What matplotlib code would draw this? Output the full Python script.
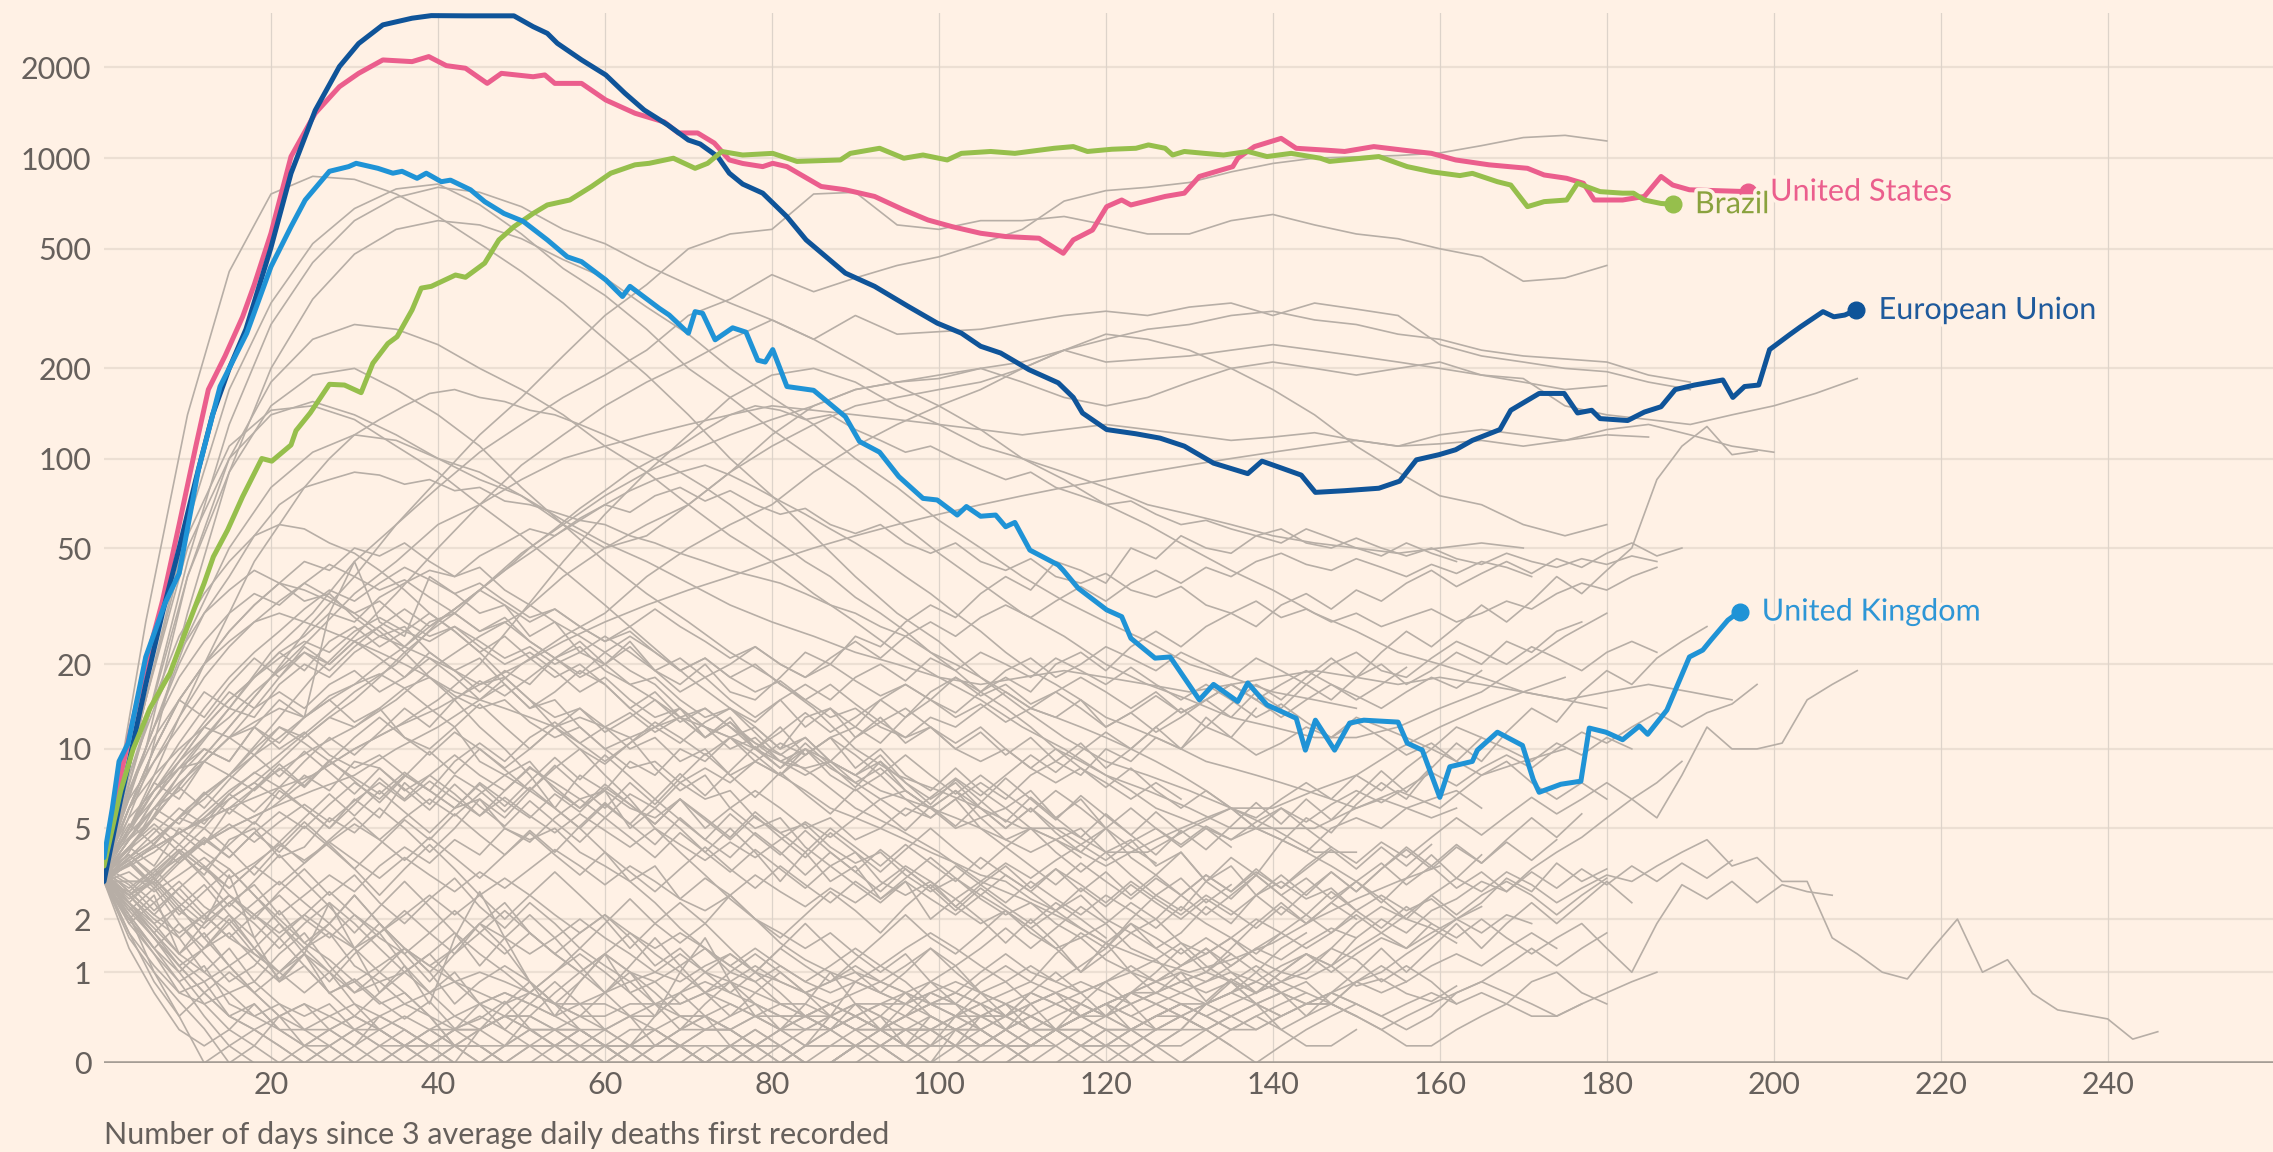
import matplotlib.pyplot as plt
import matplotlib.patheffects as pe
import numpy as np

plt.rcParams['font.family'] = ['Lato', 'DejaVu Sans']

BG = '#fff1e5'
GREY = '#b7aea6'
TEXT = '#66605c'

# highlighted countries: day since 3 avg deaths, 7-day avg daily deaths
us_days = [0, 1, 2, 3, 5, 7, 9, 11, 12.5, 14.5, 16.6, 18, 20, 22.4, 25.3, 28.2, 30.5, 33.4, 36.9, 38.9,
           41, 43.3, 45.9, 47.6, 51.4, 52.8, 54, 57.2, 60.1, 63.6, 67.1, 68.8, 71.1, 73.1, 74.9, 76.5, 78.9,
           80.1, 81.8, 85.9, 88.8, 92.3, 95.8, 98.7, 101.6, 105, 108, 112, 114.9, 116.1, 118.4, 120.1, 121.9,
           123, 127.1, 129.4, 131.2, 135.2, 135.8, 137.8, 141, 142.8, 146.3, 148.6, 152.1, 155.6, 159, 161.9,
           165.9, 170.5, 172.5, 175.2, 177.2, 178.5, 181.9, 184.5, 186.5, 187.9, 189.9, 193, 196.9]
us_vals = [3.5, 5, 8, 11, 20, 33, 60, 110, 170, 220, 297, 380, 563, 1012, 1409, 1726, 1911, 2117, 2090, 2172,
           2027, 1987, 1770, 1911, 1862, 1888, 1770, 1770, 1559, 1409, 1318, 1212, 1212, 1122, 986, 960, 937,
           961, 937, 805, 785, 746, 673, 623, 592, 563, 549, 542, 483, 535, 577, 690, 726,
           699, 746, 765, 869, 937, 999, 1092, 1163, 1078, 1063, 1052, 1092, 1063, 1037, 986,
           950, 925, 879, 857, 825, 726, 726, 746, 869, 814, 785, 780, 774]

eu_days = [0, 1, 2, 3, 5, 7, 9, 11, 13, 15, 17, 20, 22.4, 25.3, 28.2, 30.5, 33.4, 36.9, 39.2, 43.3,
           49.1, 51.4, 53.1, 54.3, 57.2, 60.1, 62.4, 64.7, 67.5, 70, 71.4, 73.5, 74.9, 76.5, 78.9, 81.8,
           84.1, 88.8, 92.3, 96.3, 99.8, 102.7, 105, 107.4, 110.8, 114.3, 116.1, 117.2, 120.1, 123.6,
           126.5, 129.4, 132.9, 137, 138.7, 141, 143.4, 145.1, 148.6, 152.7, 155.2, 157.2, 159.9, 161.9,
           163.9, 167.2, 168.5, 171.9, 174.9, 176.5, 178.2, 179.2, 182.5, 184.5, 186.5, 188.2, 190.5,
           193.9, 195.1, 196.5, 198.2, 199.5, 201.9, 203.2, 205.9, 207.2, 208.5, 209.9]
eu_vals = [3, 4.5, 6.5, 9, 17, 30, 50, 85, 140, 200, 270, 505, 890, 1440, 2013, 2400, 2767, 2912, 2970, 2965,
           2965, 2730, 2594, 2404, 2118, 1888, 1641, 1444, 1290, 1148, 1114, 1012, 891, 820, 765, 639,
           535, 415, 375, 322, 283, 262, 237, 225, 198, 179, 160, 142, 125, 121,
           117, 110, 96.5, 89, 98, 93, 88, 77, 78, 79.5, 84, 99, 103, 107,
           115, 125, 145, 165, 165, 142, 145, 136, 134, 143, 149, 170, 176,
           183, 160, 174, 176, 231, 259, 275, 309, 297, 301, 313]

br_days = [0, 1, 2, 3.5, 5.5, 7.9, 10, 12, 13.1, 14.8, 16.6, 18.9, 20.1, 22.4, 23, 24.7, 27, 28.8, 30.8,
           32.2, 34, 35.1, 36.9, 38, 39.2, 42.1, 43.3, 45.6, 47.3, 49.1, 51.4, 53.1, 55.8, 58.4, 60.7,
           63.6, 65.3, 68.2, 70.8, 72.3, 74, 76.5, 80.1, 83, 88.2, 89.4, 92.9, 95.8, 98.1, 101, 102.7,
           106.2, 109.1, 113.8, 116.1, 117.8, 120.7, 123.6, 125.1, 127.1, 128, 129.4, 131.8, 134.1, 137,
           139.3, 142.2, 145.7, 146.8, 152.7, 156.1, 159.1, 162.4, 163.9, 166.9, 168.5, 170.5, 172.5,
           175.2, 176.5, 179.2, 181.9, 183.2, 184.5, 186.5, 187.9]
br_vals = [3.5, 5, 7, 10, 14, 18.6, 27, 38, 46.7, 57.5, 74.5, 100, 98, 111, 124, 142, 177, 176, 166,
           208, 242, 255, 313, 370, 375, 409, 402, 448, 535, 592, 655, 699, 726, 805, 891,
           950, 961, 999, 925, 961, 1052, 1024, 1037, 975, 986, 1037, 1078, 999, 1024, 986, 1037,
           1052, 1037, 1078, 1092, 1052, 1070, 1078, 1106, 1078, 1024, 1052, 1037, 1024, 1052,
           1012, 1037, 999, 975, 1012, 937, 900, 875, 890, 835, 814, 690, 717,
           726, 825, 774, 765, 765, 726, 707, 703]

uk_days = [0, 1, 1.8, 2.9, 5, 7.3, 9, 11.3, 13.9, 17.1, 20, 22.4, 24.1, 27, 29.3, 30.2, 32.8, 34.6, 35.7,
           37.5, 38.6, 40.4, 41.5, 43.9, 45.6, 47.9, 50.2, 53.1, 55.5, 57.2, 60.1, 62.1, 63, 66.5, 67.7,
           70, 70.8, 71.7, 73.2, 75.3, 76.9, 78.3, 79.2, 80.1, 81.8, 85, 88.8, 90.5, 92.9, 95.2, 98.1,
           99.8, 102.2, 103.3, 105, 106.8, 108, 109.1, 110.9, 114.3, 114.9, 116.7, 120.1, 121.9, 123,
           125.9, 127.7, 131.2, 132.9, 135.8, 137, 139.3, 142.8, 143.9, 145.1, 147.4, 149.2, 150.9, 155,
           156.1, 157.9, 160, 161.2, 163.9, 164.5, 166.9, 169.9, 171.2, 171.9, 174.5, 176.9, 177.9,
           179.9, 181.9, 183.9, 184.9, 187.2, 189.9, 191.5, 192.5, 194.5, 195.9]
uk_vals = [3.8, 6, 9, 10.5, 21.2, 32.4, 41, 91.5, 174, 262, 436, 592, 726, 904, 937, 961, 925, 891, 904,
           857, 891, 835, 845, 785, 717, 655, 617, 535, 470, 453, 394, 347, 375, 317, 301,
           262, 309, 305, 249, 273, 264, 213, 210, 231, 174, 169, 138, 114, 105, 87, 73.5,
           72.6, 64.6, 69, 64, 64.6, 59, 61, 49.2, 43.8, 42, 36.5, 30.8, 29.2, 24.6,
           21, 21.2, 15, 17, 14.8, 17.2, 14.4, 12.9, 9.9, 12.7, 9.9, 12.4, 12.7, 12.5,
           10.5, 9.9, 6.6, 8.6, 9.0, 9.9, 11.5, 10.3, 7.7, 6.9, 7.4, 7.6, 11.9,
           11.5, 10.8, 12.1, 11.3, 13.8, 21.2, 22.4, 24.3, 28.4, 30.4]

# other countries, values every 5 days from day 0 (larger outbreaks)
grey_5day = [
    [3.5, 28, 140, 420, 760, 870, 850, 760, 640, 520, 420, 330, 250, 190, 140, 100, 75, 55, 40, 30, 24, 18,
     14, 11, 9, 8, 7, 6, 6, 7, 8, 10, 12, 14, 16, 18],
    [3.2, 15, 60, 170, 330, 520, 680, 790, 820, 700, 560, 430, 350, 270, 200, 160, 125, 100, 80, 62, 48, 38,
     30, 25, 20, 17, 15, 13, 12, 11, 11, 12, 14, 16, 20, 25, 30],
    [3.3, 12, 45, 130, 280, 450, 620, 740, 800, 770, 690, 580, 520, 440, 380, 330, 290, 250, 210, 175, 150,
     125, 100, 85, 70, 60, 50, 42, 36, 30, 26, 22, 20, 18, 16, 15, 14],
    [3.1, 8, 30, 90, 200, 340, 480, 580, 620, 600, 540, 460, 400, 320, 260, 200, 160, 130, 100, 80, 62, 50,
     40, 33, 28, 24, 20, 18, 16, 15, 14],
    [3.2, 5, 8, 12, 18, 28, 40, 60, 85, 120, 160, 220, 300, 380, 500, 560, 580, 760, 770, 600, 580, 620, 620,
     640, 600, 560, 560, 620, 650, 600, 560, 540, 500, 470, 390, 400, 440],
    [3.1, 5, 9, 14, 22, 30, 45, 60, 80, 105, 130, 160, 190, 230, 300, 340, 410, 360, 400, 440, 470, 520, 580,
     720, 780, 800, 830, 900, 960, 1000, 1010, 1020, 1040, 1100, 1170, 1190, 1140],
    [3, 4, 6, 8, 12, 18, 25, 35, 50, 70, 95, 120, 150, 180, 210, 250, 290, 250, 300, 260, 265, 270, 285, 300,
     310, 300, 320, 330, 300, 330, 315, 300, 240, 220, 210, 200, 195, 180, 170],
    [3, 4, 5, 7, 9, 12, 16, 20, 28, 36, 48, 60, 75, 90, 105, 120, 135, 150, 170, 180, 185, 200, 210, 230,
     210, 215, 220, 230, 240, 230, 220, 210, 200, 190, 185, 150, 140, 135, 130, 140, 150, 165, 185],
    [3, 3, 4, 5, 6, 8, 10, 12, 14, 17, 20, 24, 28, 32, 36, 40, 45, 50, 55, 60, 65, 70, 75, 80, 85, 90, 95,
     100, 105, 110, 115, 110, 120, 125, 120, 115, 125, 130, 120, 110, 105],
    [3.4, 15, 50, 100, 140, 155, 140, 120, 100, 85, 75, 60, 50, 55, 70, 90, 120, 150, 170, 180, 190, 200,
     180, 160, 150, 160, 180, 200, 210, 200, 190, 200, 210, 190, 180, 170, 175],
    [3.3, 10, 40, 100, 180, 250, 280, 270, 240, 200, 170, 140, 110, 90, 70, 55, 45, 35, 28, 22, 18, 15, 12,
     10, 8, 7, 6, 5, 5, 4, 4],
    [3.5, 12, 40, 90, 150, 190, 200, 170, 140, 110, 80, 60, 45, 35, 28, 22, 18, 14, 10, 8, 7, 6, 5, 5, 4, 4,
     5, 6, 5, 5, 6, 7, 6, 8, 9, 10],
    [3.2, 5, 8, 12, 18, 25, 35, 45, 60, 70, 85, 100, 110, 120, 130, 140, 150, 145, 140, 135, 130, 125, 120,
     125, 130, 125, 120, 115, 118, 122, 115, 110, 112, 115, 110, 115, 120, 118],
    [3, 3, 4, 5, 6, 7, 8, 10, 12, 15, 20, 25, 30, 40, 50, 60, 70, 90, 110, 130, 150, 170, 200, 230, 260,
     250, 230, 200, 170, 140, 110, 90, 75, 70, 60, 55, 60],
    [3, 4, 5, 6, 8, 10, 12, 15, 20, 25, 30, 40, 50, 60, 70, 90, 110, 130, 150, 160, 170, 180, 200, 230, 250,
     270, 280, 300, 310, 290, 280, 260, 250, 230, 220, 215, 210, 190, 180],
    [3.5, 10, 25, 50, 80, 105, 120, 115, 100, 90, 75, 62, 52, 45, 38, 32, 28, 25, 22, 20, 18, 17, 18, 19,
     18, 17, 16, 17, 18, 19, 18, 17, 18, 17, 16, 15, 16, 17, 16, 15],
    [3.3, 15, 55, 110, 145, 150, 135, 110, 90, 70, 55, 42, 32, 24, 18, 14, 10, 8, 6, 5, 4, 3, 2.5, 2, 1.5,
     1.2, 1.0, 1.2, 1.5, 2, 2.5, 3, 3.5],
    [3, 4, 5, 6, 7, 8, 10, 12, 15, 20, 30, 45, 65, 90, 120, 160, 190, 200, 180, 150, 130, 110, 100, 90, 80,
     70, 65, 60, 55, 52, 50, 48, 50, 52, 50],
]

# other countries, values every 3 days from day 0 (mid-sized outbreaks)
grey_mid = [
    [3.4, 5, 7, 9, 11, 14, 13, 17, 20, 18, 22, 25, 23, 28, 30, 26, 29, 24, 21, 23, 19, 17, 18, 15, 13, 14,
     12, 10, 11, 9, 8, 9, 7, 6, 7, 5.5, 6, 5, 4.5, 5, 4, 4.5, 3.5, 4, 3, 3.5, 2.6, 3, 2.5, 2.8, 2.2, 2.6,
     2.2, 2.5, 2, 2.3],
    [3.3, 2.6, 3, 4, 3.2, 4.5, 5, 3.8, 4.2, 5.5, 4.8, 6, 5, 4, 5, 6.5, 5.5, 7, 6, 8, 7, 9, 8, 10, 9, 11, 12,
     10, 13, 14, 12, 15, 17, 15, 18, 16, 19, 21, 18, 20, 23, 21, 19, 22, 20, 18, 21, 19, 17, 20, 22, 19,
     18, 21, 24, 22, 20, 23, 21, 19, 22, 24, 22],
    [3.5, 6, 10, 15, 20, 26, 32, 38, 45, 42, 50, 47, 52, 45, 40, 43, 36, 32, 28, 25, 22, 19, 17, 14, 12,
     11, 9, 8, 7, 6, 5.5, 5, 4.5, 4, 3.6, 3.2, 3, 2.5, 2.2, 2.6, 2, 1.7, 2, 1.5, 1.3, 1.6, 1.2, 1.0, 0.9,
     1.1, 0.8, 0.9, 0.7, 0.6, 0.8],
    [3.3, 5, 7, 9, 12, 15, 18, 22, 25, 30, 28, 34, 38, 42, 40, 47, 52, 58, 55, 63, 70, 66, 75, 80, 72, 78,
     70, 65, 68, 60, 56, 60, 52, 48, 52, 45, 42, 46, 40, 38, 41, 36, 34, 37, 32, 30, 33, 29, 31, 28, 30,
     27, 29, 31, 28, 30, 33, 31, 35, 38, 36, 40, 43],
    [3.2, 2.5, 3, 2.2, 1.8, 2.4, 2.9, 2.1, 2.6, 3.2, 2.7, 3.5, 4.2, 3.6, 4.5, 3.9, 5, 4.4, 5.5, 6.5, 5.5,
     6.8, 6, 7.5, 8.5, 7.5, 9, 8, 10, 9, 11, 12.5, 11, 13, 12, 14, 16, 14, 13, 15, 12, 13.5, 11.5, 13, 15,
     13, 16, 14, 17, 15, 18, 20, 17, 19, 22, 20, 24, 22, 26, 28],
    [3.4, 5, 6.5, 8.5, 11, 13, 16, 19, 22, 20, 24, 27, 23, 21, 19, 17, 18, 15, 13, 14, 12, 10, 11, 9, 10,
     8, 9, 10.5, 9.5, 11, 12, 10.5, 13, 15, 13.5, 16, 18, 16, 20, 22, 19, 23, 26, 23, 27, 30, 27, 32, 35,
     31, 36, 33, 38, 42, 37, 41, 45, 41, 46, 43, 48, 52, 47, 50],
    [3.5, 8, 14, 22, 30, 36, 42, 38, 33, 35, 29, 25, 27, 22, 19, 21, 17, 14, 15, 12, 10, 11, 8.5, 7, 8, 6,
     5, 5.5, 4.2, 3.5, 4, 3, 2.6, 3, 2.3, 1.9, 2.2, 1.7, 1.4, 1.6, 1.2, 1.0, 1.2, 0.86, 0.71, 0.86, 0.57,
     0.71, 0.86, 0.57, 0.43],
    [3.0, 3.3, 2.7, 3.2, 3.8, 3.1, 3.6, 4.3, 3.7, 4.4, 5.2, 4.5, 5.5, 6.5, 5.6, 6.8, 8, 7, 8.5, 10, 8.8,
     10.5, 12, 10.5, 12.5, 14, 12.5, 15, 17, 15, 18, 20, 17.5, 21, 19, 22, 20, 18, 21, 19, 17, 19.5, 17,
     15, 17, 15, 13, 14.5, 12.5, 11, 12.5, 11, 9.5, 10.5, 9, 8, 9, 7.5, 6.5, 7.5, 6.5],
    [3.3, 5, 8, 13, 20, 30, 45, 60, 80, 100, 120, 135, 150, 165, 170, 160, 155, 145, 140, 130, 120, 110,
     100, 90, 80, 70, 60, 52, 45, 40, 34, 30, 26, 22, 19, 16, 14, 12, 10, 9, 8, 7, 6, 5.5, 5, 4.5, 5, 4.5,
     4, 5, 5.5, 5, 6, 6.5, 7, 6],
    [3.4, 7, 12, 20, 30, 40, 55, 70, 80, 85, 90, 88, 82, 85, 78, 80, 72, 70, 66, 62, 60, 55, 52, 48, 45, 42,
     40, 38, 35, 32, 30, 27, 25, 22, 20, 18, 16, 14, 13, 12, 11, 10, 9, 8, 7, 6, 5, 4.5, 4, 3.5, 3, 2.5,
     2, 1.8, 1.5],
    [3.1, 3.5, 4, 4.8, 5.5, 6.5, 7.5, 9, 11, 13, 15, 18, 22, 26, 30, 36, 42, 50, 58, 68, 78, 90, 100, 110,
     125, 140, 150, 145, 135, 140, 125, 115, 105, 110, 100, 92, 85, 90, 80, 75, 70, 72, 65, 60, 62, 58, 55,
     58, 52, 50, 54, 50, 47, 50, 46, 44, 48, 45, 43, 46, 44, 47, 45],
    [3.0, 4, 6, 8, 10, 9, 12, 15, 13, 30, 45, 28, 25, 40, 35, 30, 32, 25, 28, 22, 20, 24, 19, 17, 20, 16,
     15, 18, 22, 20, 25, 23, 28, 32, 29, 35, 40, 36, 45, 42, 38, 50, 46, 55, 50, 48, 55, 52, 58, 54, 50,
     47, 52, 48, 45],
    [3.5, 4.6, 6, 7.5, 9, 11, 12.5, 14, 13, 15.5, 17, 18.5, 16.5, 18, 15.5, 14, 15, 12.5, 11, 12, 10, 8.5,
     9, 7.5, 6.5, 7, 5.5, 4.8, 5.2, 4.2, 3.6, 4, 3.2, 2.7, 3.1, 2.5, 2.1, 2.4, 1.9, 1.6, 1.9, 1.4, 1.2,
     1.5, 1.1, 0.86, 1.1, 0.86, 0.71],
    [3.4, 8, 15, 25, 35, 45, 55, 60, 58, 52, 48, 42, 36, 30, 26, 22, 18, 15, 12, 10, 8, 6.5, 5, 4, 3.2,
     2.5, 2, 1.5, 1.2, 1.0, 0.86, 0.71, 0.57, 0.71, 0.57, 0.43, 0.57, 0.71, 0.57, 0.43, 0.57, 0.71, 0.86,
     1.0, 0.86, 1.1, 1.4, 1.2, 1.5, 1.8, 1.6],
    [3.2, 4.5, 6.5, 9, 12, 15, 18, 21, 24, 22, 26, 29, 26, 24, 27, 24, 21, 23, 20, 22, 25, 22, 19, 21, 18,
     20, 23, 20, 18, 21, 24, 21, 25, 28, 25, 29, 32, 29, 33, 37, 33, 38, 42, 38, 43, 40, 45, 48, 44, 42,
     46, 43, 40, 44, 41, 45, 43, 40],
    [3.3, 6, 10, 15, 20, 26, 32, 38, 36, 33, 30, 26, 22, 18, 15, 12, 10, 8, 6, 5, 4, 3, 2.4, 1.8, 1.4, 1.0,
     0.86, 0.57, 0.43, 0.29, 0.43, 0.29, 0.14, 0.29, 0.14, 0.14, 0.29, 0.43, 0.29, 0.43, 0.57, 0.43, 0.57,
     0.43, 0.29, 0.43],
    [3.2, 6, 10, 15, 20, 24, 28, 30, 28, 26, 24, 22, 20, 18, 16, 15, 14, 13, 12, 13, 12, 11, 12, 13, 12, 11,
     10, 9, 8.5, 9, 8, 7, 6.5, 6, 5.5, 5, 4.5, 5, 4.5, 4, 3.5, 4, 4.5, 5, 5.5, 6, 5.5, 6.5, 7.5, 6.5, 8, 7,
     8.5, 10, 9, 11],
    [3.0, 3.8, 4.5, 5.5, 6.5, 8, 9.5, 11, 13, 15, 17, 20, 23, 27, 31, 36, 42, 48, 55, 62, 70, 78, 85, 90,
     95, 88, 80, 72, 65, 58, 52, 46, 40, 35, 30, 26, 22, 19, 17, 15, 13, 12, 11, 10, 9, 8.5, 8, 7.5, 7,
     6.5, 6, 6.5, 6, 5.5, 6],
    [3.2, 3.7, 4.3, 3.6, 4.4, 5.2, 4.4, 5.3, 6.2, 5.3, 6.4, 7.5, 6.4, 7.6, 6.5, 5.6, 6.6, 5.6, 4.8, 5.7,
     4.9, 4.2, 5, 4.3, 3.7, 4.4, 3.8, 4.5, 5.3, 4.6, 5.5, 6.5, 5.6, 6.6, 7.8, 6.7, 8, 9.5, 8.2, 9.8, 11.5,
     10, 12, 14, 12, 14.5, 17, 15, 18, 21, 18, 22, 26, 23, 27, 32, 28, 33, 40, 35, 42, 50, 85, 110, 128,
     103, 106],
    [3.4, 6, 8, 10, 12, 11, 14, 16, 14, 17, 19, 16, 18, 21, 18, 15, 17, 14, 16, 19, 17, 14, 12, 14, 11, 13,
     10, 12, 9.5, 11, 8.5, 10, 8, 7, 8.5, 7, 6, 7, 5.5, 6.5, 5],
    [3.5, 7, 11, 15, 13, 17, 21, 18, 23, 20, 24, 21, 18, 22, 19, 16, 19, 17, 21, 24, 20, 23, 19, 16, 18,
     15, 13, 15, 12, 14, 11, 13, 10.5, 12, 10, 11.5, 9.5, 11, 9, 10.5, 8.5, 10, 12, 10, 13, 11, 14],
    [3.2, 4.5, 6.5, 8.5, 10, 9, 12, 10.5, 13, 15, 12.5, 14, 16.5, 14, 12, 14.5, 12, 10, 12, 14, 11.5, 13,
     15, 12.5, 14, 12, 10, 11.5, 13.5, 11.5, 13, 15, 13, 16, 18, 15.5, 17, 14.5, 16, 18, 16, 14, 16, 13.5,
     15, 17, 15, 13, 15, 17, 15.5, 14, 16, 18, 16.5, 19],
    [3.6, 6.5, 9, 12, 16, 14, 18, 22, 19, 24, 27, 23, 26, 30, 26, 22, 25, 21, 18, 20, 17, 14, 16, 13, 11,
     12.5, 10, 8.5, 10, 8, 7, 8, 6.5, 5.5, 6.5, 5, 4.2, 5, 4, 3.3, 4, 3.2, 2.6, 3.1, 2.4, 2.9],
    [3.3, 5, 7.5, 6.5, 9, 11, 9.5, 12, 10.5, 9, 11, 13, 11, 9.5, 11.5, 10, 8.5, 10, 12, 10.5, 9, 10.5, 12.5,
     11, 9.5, 11, 9.5, 8, 9.5, 11, 9.5, 8, 9.5, 8, 6.8, 8, 6.8, 5.8, 7, 6, 5, 6, 5, 4.2, 5, 4.2],
    [3.1, 3.8, 4.8, 6, 5.2, 6.8, 8.2, 7.2, 9, 11, 9.5, 11.5, 14, 12, 15, 17.5, 15.5, 18, 21, 18.5, 22, 25,
     22, 19, 21, 18, 20, 17, 15, 17, 14.5, 12.5, 14, 12, 10.5, 12, 10, 8.5, 10, 8.5, 7.2, 8.5, 7, 6, 7, 6,
     5, 6, 5, 4.2],
    [3.5, 7, 12, 18, 24, 30, 35, 32, 38, 34, 30, 33, 28, 25, 27, 23, 20, 22, 19, 16, 18, 15, 13, 14, 12,
     10, 11, 9, 8, 9, 7.5, 6.5, 7, 6, 5, 5.5, 4.5, 4, 4.5, 3.8],
    [3.3, 5, 7.5, 10.5, 14, 18, 22, 26, 31, 36, 33, 38, 43, 39, 35, 38, 33, 29, 31, 27, 24, 26, 22, 19, 21,
     18, 16, 17.5, 15, 13, 14, 12, 11, 12, 10, 9, 10, 8.5, 7.5, 8.5, 7.5, 6.5, 7.5, 6.5],
    [3.2, 4.8, 7, 9.5, 12.5, 16, 14, 18, 22, 19, 23, 27, 31, 27, 31, 36, 32, 28, 31, 27, 24, 27, 31, 27, 24,
     21, 23, 20, 18, 20, 17.5, 15.5, 17, 15, 13, 14.5, 12.5, 14, 16, 14, 12, 13.5, 15.5, 13.5, 15, 17, 15,
     17, 19, 17, 15, 17, 19.5],
    [3.4, 6, 9, 13, 18, 23, 28, 33, 38, 44, 40, 36, 39, 34, 30, 26, 28, 24, 21, 18, 20, 17, 15, 13, 14, 12,
     10.5, 9, 10, 8.5, 7.5, 8.5, 7, 6, 7, 6, 5, 6, 5, 4.3, 5, 4.2, 3.6],
]

# other countries, values every 3 days from day 0 (small outbreaks)
grey_low = [
    [3.2, 4.5, 6, 7, 9, 8, 10, 12, 11, 13, 12, 14, 11, 10, 12, 9, 8, 9, 7, 6, 7, 5, 6, 5, 4, 5, 4, 3, 4, 3,
     3.5, 2.5, 3, 2, 2.5, 2, 1.5, 2, 1.5, 1, 1.5, 1, 0.7, 1, 0.6, 0.9, 0.7, 1, 1.3, 1.1, 1.6, 2, 1.7, 2.2,
     2.5, 3, 2.7, 3.4, 4, 4.6, 5.5, 6.5, 7.5, 9],
    [3.1, 2.4, 1.9, 2.3, 1.6, 1.1, 1.4, 0.9, 1.3, 0.7, 0.9, 0.6, 0.4, 0.6, 0.3, 0.4, 0.6, 0.3, 0.14, 0.29,
     0.29, 0.43, 0.14, 0.14, 0, 0.14, 0.29, 0.14, 0, 0, 0.14, 0.14, 0.29, 0.43, 0.29, 0.14, 0.14, 0, 0,
     0.14, 0.29, 0.29, 0.14, 0, 0.14],
    [3.0, 1.6, 1.0, 0.6, 0.3, 0, 0.14, 0.43, 0.29, 0.14, 0, 0, 0.14, 0.14, 0.29, 0.14, 0, 0, 0, 0.14, 0.29,
     0.43, 0.29, 0.14, 0, 0, 0, 0.14, 0, 0, 0.14, 0.14, 0, 0, 0.29, 0.29, 0.14, 0, 0, 0, 0.14, 0.29, 0.43,
     0.57, 0.43, 0.29, 0.43, 0.57, 0.71, 0.57, 0.86, 1.0, 1.3, 1.6, 2.0, 2.4, 3.1, 2.7, 3.6, 3.0, 3.4],
    [3.1, 3.8, 4.5, 5.5, 5, 6.5, 7.5, 6.5, 8, 7, 9, 8.5, 7, 8, 9.5, 8, 7, 8.5, 7.5, 6.5, 7, 6, 5.5, 6.5, 5,
     6, 7, 6, 5, 5.5, 4.5, 5, 6, 5.5, 6.5, 7.5, 6.5, 8, 9, 8, 10, 9, 11, 10, 12, 11, 9.5, 10.5, 12, 11, 13,
     12, 11, 10, 12, 11, 10, 9, 10.5, 9.5, 11, 10],
    [3.2, 2.2, 2.8, 1.9, 1.4, 1.9, 1.3, 1.0, 1.4, 1.7, 1.1, 0.86, 1.0, 1.3, 0.86, 0.71, 0.57, 0.71, 1.0,
     1.4, 1.1, 0.86, 0.57, 0.43, 0.43, 0.57, 0.43, 0.29, 0.43, 0.43, 0.57, 0.57, 0.57, 0.43, 0.29, 0.29,
     0.43, 0.71, 0.57, 0.43, 0.43, 0.29, 0.29, 0.43, 0.57, 0.71, 0.86, 0.71, 0.57, 0.71, 0.57],
    [3.6, 5.5, 7, 8.5, 9, 11, 12, 10, 11.5, 9.5, 8.5, 9.5, 8, 7, 6, 6.5, 5, 4.5, 5, 4, 3.5, 3, 3.5, 2.5, 2.2,
     2.6, 2, 1.7, 1.4, 1.7, 1.3, 1.0, 1.3, 0.86, 1.1, 0.71, 0.86, 0.57, 0.71, 0.43, 0.57, 0.43, 0.29, 0.43,
     0.29, 0.43, 0.57, 0.43],
    [3.0, 1.9, 1.3, 0.71, 0.86, 0.43, 0.29, 0.14, 0, 0.14, 0.29, 0.14, 0, 0, 0.14, 0.14, 0.14, 0.29, 0.29,
     0.14, 0, 0, 0, 0, 0.14, 0.14, 0, 0, 0.14, 0.29, 0.43, 0.29, 0.14, 0.14, 0.14, 0, 0, 0.14, 0.14],
    [3.3, 4.2, 3.5, 5, 4.3, 6, 5.2, 7, 6, 5, 6.5, 5.5, 7.5, 6.2, 8, 7, 5.8, 7.2, 6, 5, 6.2, 5.2, 4.3, 5.5,
     4.5, 3.8, 4.8, 4, 3.2, 4, 3.3, 2.7, 3.4, 2.8, 2.2, 2.8, 2.3, 1.9, 2.4, 2, 1.6],
    [3.1, 3.6, 2.8, 3.6, 4.5, 3.8, 4.8, 5.8, 5, 6.2, 7.5, 6.5, 8, 7, 9, 10.5, 9, 11, 12.5, 10.5, 12, 13.5,
     11.5, 13, 11, 12.5, 10.5, 9.5, 11, 9, 8, 9.5, 7.5, 6.5, 7.5, 6, 5, 6, 4.8, 4, 5, 3.8, 3.2, 4, 3, 2.5,
     3.2, 2.6, 2.1, 2.7, 2.2, 1.8, 2.3, 1.9],
    [3.2, 2.4, 1.7, 2.3, 2.9, 2.1, 1.6, 2.2, 1.5, 1.9, 2.6, 1.9, 1.4, 1.0, 1.4, 1.9, 2.4, 1.7, 1.3, 1.7,
     2.1, 1.6, 1.1, 1.4, 1.0, 0.71, 1.0, 1.4, 1.1, 0.86, 1.2, 1.6, 2.1, 1.6, 1.3, 1.7, 2.2, 1.8, 1.4, 1.0,
     1.3, 1.7, 1.4, 1.1, 1.4, 1.0, 0.71, 0.86, 1.1, 1.4, 1.2, 0.86, 1.1, 0.86, 0.57, 0.71, 0.57, 0.86,
     1.0, 0.71, 0.57],
    [3.0, 2.1, 1.4, 0.86, 1.1, 0.57, 0.43, 0.57, 0.29, 0.29, 0.14, 0.29, 0.43, 0.29, 0.14, 0.14, 0, 0,
     0.14, 0.29, 0.14, 0, 0, 0.14, 0.14, 0],
    [3.6, 4.8, 6, 5.2, 6.8, 8, 7, 8.5, 7.2, 9, 7.8, 6.8, 8.2, 7, 6, 7.5, 6.4, 5.5, 6.8, 5.8, 7.2, 6.2, 5.2,
     6.5, 5.5, 4.6, 5.8, 4.8, 4, 5, 4.2, 3.5, 4.3, 3.6, 3, 3.8, 3.2, 2.7, 3.4, 2.9, 2.4, 3, 2.5, 2.1, 2.6,
     2.2, 1.8, 2.3, 1.9, 2.4, 2],
    [3.1, 2.2, 1.6, 1.1, 1.4, 1.7, 1.2, 0.86, 1.1, 0.71, 0.86, 1.1, 1.4, 1.1, 0.86, 0.57, 0.71, 0.57, 0.43,
     0.57, 0.71, 0.86, 1.0, 0.86, 1.1, 1.3, 1.0, 0.86, 0.71, 0.57, 0.71, 0.86, 0.71, 0.57, 0.43, 0.43,
     0.57, 0.43, 0.29, 0.43, 0.57, 0.71, 0.57, 0.43, 0.57, 0.71, 0.86, 1.1, 1.3, 1.0, 1.3, 1.6, 1.4, 1.7,
     2.0, 1.7, 2.1, 1.9],
    [3.3, 3.9, 3.2, 4.1, 3.4, 2.8, 3.5, 2.9, 3.6, 4.4, 3.7, 3.1, 3.8, 3.2, 2.7, 3.3, 2.8, 3.4, 4.1, 3.5,
     2.9, 3.5, 3, 2.5, 3.1, 2.6, 3.2, 2.7, 2.3, 2.8, 2.4, 2.9, 3.5, 3, 2.5, 3, 3.6, 3.1, 3.7, 4.3, 3.7,
     4.4, 5, 4.3, 5.1, 4.5, 5.3, 6, 5.3, 6.2, 7, 6.3, 7.2, 8.2, 7.3, 8.5, 9.5, 8.5, 10, 11.5, 10.5, 12,
     13.5, 12, 13.5, 14.5, 17],
    [3.0, 1.7, 1.1, 0.71, 0.57, 0.71, 0.43, 0.29, 0.29, 0.43, 0.57, 0.43, 0.29, 0.14, 0.14, 0.29, 0.43,
     0.43, 0.29, 0.29, 0.14, 0.14, 0.14, 0.29, 0.29, 0.29, 0.43, 0.57, 0.57, 0.43, 0.29, 0.29, 0.14, 0.14,
     0.29, 0.43, 0.43, 0.29, 0.29, 0.29, 0.14, 0, 0.14, 0.29, 0.29, 0.43, 0.57, 0.71, 0.57, 0.57, 0.43,
     0.29, 0.43, 0.57, 0.71, 0.86, 0.71, 0.57, 0.43, 0.57, 0.71, 0.86, 1.0],
    [3.4, 2.7, 2.1, 2.8, 3.5, 2.6, 2.0, 2.7, 3.4, 2.6, 3.2, 2.4, 1.9, 2.5, 3.1, 2.3, 1.8, 2.4, 1.9, 1.4,
     1.9, 2.5, 1.9, 1.5, 1.9, 2.6, 2.0, 1.6, 2.1, 2.7, 2.2, 1.7, 2.3, 2.9, 2.3, 2.9, 3.5, 2.8, 3.4, 2.7,
     3.3, 2.6, 3.2, 2.6, 2.1, 2.6, 3.2, 2.6, 3.1, 2.5, 3.0, 3.6, 2.9, 3.5, 2.8, 3.3, 2.7, 3.3, 2.8, 3.4,
     2.9, 3.5, 3.0, 3.6, 3.1, 3.7],
    [3.0, 2.0, 2.6, 1.3, 1.9, 3.2, 1.6, 0.86, 1.3, 2.4, 1.4, 0.71, 1.1, 0.57, 1.6, 2.7, 1.6, 0.86, 0.43,
     0.86, 1.3, 0.71, 0.43, 1.0, 1.6, 0.86, 0.43, 0.29, 0.57, 1.0, 0.57, 0.29, 0.14, 0.43, 0.29, 0.14,
     0.29, 0.57, 0.29, 0.14, 0.29],
    [3.1, 2.3, 1.6, 1.1, 0.71, 0.43, 0.57, 0.29, 0.14, 0.29, 0.14, 0, 0, 0.14, 0, 0, 0.14, 0.29, 0.14, 0,
     0, 0, 0.14, 0.14, 0, 0, 0.14, 0.29, 0.43, 0.29, 0.43, 0.57, 0.43, 0.71, 0.57, 0.86, 1.1, 0.86, 1.3,
     1.7, 1.4, 2.0, 2.6, 2.2, 3.0, 3.8, 3.2, 4.4, 5.5, 4.8, 6.2, 7.5, 6.5, 8.5, 10.5, 9, 11.5, 14, 12.5,
     16, 19, 17, 21, 24, 27],
    [3.2, 4.5, 5.5, 4.8, 4.0, 3.4, 2.6, 2.0, 1.5, 1.2, 0.86, 0.57, 0.71, 0.43, 0.29, 0.29, 0.14, 0.14, 0,
     0, 0.14, 0, 0, 0, 0, 0.14, 0, 0, 0, 0, 0, 0.14, 0, 0, 0, 0, 0, 0, 0.14, 0.29, 0.14, 0.29, 0.43, 0.57,
     0.43, 0.57, 0.71, 0.86, 1.0, 1.4, 1.9, 2.3, 2.0, 2.6, 3.1, 2.7, 3.3, 2.9, 2.4, 2.8, 3.2, 3.0, 3.5,
     4.0, 4.5, 3.5, 3.8, 3.0, 3.0, 1.6, 1.3, 1.0, 0.9, 1.4, 2.0, 1.0, 1.2, 0.7, 0.5, 0.45, 0.4, 0.2,
     0.27],
    [3.0, 2.4, 1.8, 1.3, 1.0, 0.71, 0.86, 0.57, 0.43, 0.57, 0.29, 0.43, 0.29, 0.14, 0.29, 0.43, 0.29, 0.14,
     0.14, 0.29, 0.14, 0, 0.14, 0.29, 0.43, 0.29, 0.14, 0.29, 0.43, 0.57, 0.43, 0.29, 0.43, 0.57, 0.71,
     0.57, 0.43, 0.57, 0.71, 0.86, 0.71, 0.57, 0.71, 0.86, 1.0, 0.86, 0.71, 1.0, 1.3, 1.1, 1.4, 1.7, 1.4,
     1.9, 1.6, 2.0, 1.6, 1.3, 1.6, 1.9, 1.4, 1.0, 1.9, 2.9, 2.5, 3.0, 2.4, 2.9, 2.7, 2.6],
    [3.3, 2.8, 3.4, 2.6, 2.0, 2.6, 2.1, 1.6, 2.1, 2.7, 2.1, 1.7, 2.2, 1.7, 1.3, 1.7, 2.2, 1.7, 1.3, 1.0,
     1.3, 1.7, 1.3, 1.0, 0.71, 1.0, 1.3, 1.0, 0.71, 0.86, 1.1, 0.86, 1.1, 1.4, 1.1, 1.4, 1.8, 1.4, 1.8,
     2.3, 1.9, 2.4, 2.0, 2.6, 3.2, 2.7, 3.4, 2.8, 3.5, 4.2, 3.6, 4.4, 3.8, 4.6, 5.5, 4.7, 5.6, 6.6, 5.7,
     6.5, 7.5, 6.5, 5.5, 8, 12, 10, 10, 10.5, 15, 17, 19],
    [3.3, 4.2, 5.2, 4.3, 5.5, 6.8, 5.8, 7.2, 6, 5, 6.2, 7.8, 6.5, 8, 6.8, 5.6, 7, 8.6, 7.2, 6, 7.4, 6.2, 5.2,
     6.5, 5.4, 4.5, 5.6, 4.6, 3.8, 4.8, 4, 3.3, 4.1, 5, 4.1, 3.4, 4.2, 3.5, 2.9, 3.6, 3, 2.5, 3.1, 2.6,
     3.2, 2.7, 3.3, 2.8, 3.4, 4.1, 3.4, 4.2, 3.5, 4.3],
    [3.0, 3.6, 2.9, 3.7, 4.6, 3.8, 4.8, 4, 5.1, 4.2, 3.4, 4.3, 5.4, 4.5, 5.7, 4.7, 3.9, 4.9, 4, 5.1, 6.3,
     5.2, 6.5, 5.4, 4.5, 5.7, 4.7, 3.9, 4.9, 4, 3.3, 4.1, 3.4, 2.8, 3.5, 2.9, 2.4, 3, 2.5, 2.1, 2.6, 2.2,
     1.8, 2.3, 1.9, 1.6, 2, 1.7],
    [3.4, 2.7, 3.4, 4.3, 3.5, 2.8, 3.5, 4.4, 3.6, 4.5, 5.5, 4.5, 3.7, 4.6, 3.8, 3.1, 3.9, 4.8, 3.9, 3.2, 4,
     3.3, 2.7, 3.4, 4.2, 3.4, 2.8, 3.5, 2.9, 2.4, 3, 2.5, 3.1, 3.8, 3.1, 2.6, 3.2, 2.7, 2.2, 2.8, 2.3, 2.9,
     2.4, 2, 2.5, 2.1, 2.6, 3.2, 2.6, 3.3, 2.7, 3.4, 4.2, 3.5, 4.3, 3.6, 4.5, 5.5, 4.6, 5.7],
    [3.1, 4.2, 5.6, 7.2, 6, 7.7, 9.5, 7.9, 9.8, 8.2, 6.8, 8.5, 7.1, 5.9, 7.4, 6.1, 5.1, 6.4, 5.3, 4.4, 5.5,
     4.6, 3.8, 4.8, 4, 3.3, 4.1, 3.4, 2.8, 3.5, 2.9, 2.4, 3, 2.5, 2.1, 2.6, 2.2, 1.8, 2.2, 1.8, 1.5, 1.9,
     1.6, 1.3, 1.6, 1.3],
    [3.5, 5.2, 4.3, 5.5, 6.9, 5.7, 7.1, 8.8, 7.3, 9.1, 7.6, 6.3, 7.9, 9.8, 8.1, 10, 8.4, 7, 8.7, 7.2, 6, 7.5,
     6.2, 7.8, 9.6, 8, 6.6, 8.2, 6.8, 5.7, 7.1, 5.9, 4.9, 6.1, 5.1, 6.3, 7.8, 6.5, 5.4, 6.7, 5.6, 4.7, 5.8,
     4.8],
    [3.2, 2.6, 3.3, 4.1, 3.4, 4.3, 5.3, 4.4, 5.5, 6.8, 5.6, 7, 5.8, 4.8, 6, 7.4, 6.1, 7.6, 9.3, 7.7, 9.5,
     7.9, 6.5, 8.1, 6.7, 8.3, 10.2, 8.5, 10.5, 8.7, 7.2, 9, 7.5, 6.2, 7.7, 6.4, 5.3, 6.6, 5.5, 4.6, 5.7,
     4.7, 3.9, 4.9, 4.1, 5.1, 6.3, 5.2, 6.5, 5.4, 6.7, 8.3, 6.9, 8.6],
    [3.0, 2.3, 1.7, 1.2, 0.86, 1.1, 0.71, 0.43, 0.57, 0.29, 0.43, 0.29, 0.14, 0.29, 0.43, 0.57, 0.43, 0.29,
     0.29, 0.29, 0.14, 0.14, 0.29, 0.43, 0.43, 0.29, 0.14, 0, 0, 0.14, 0.29, 0.29, 0.29, 0.14, 0.14, 0.29,
     0.43, 0.29],
    [3.1, 2.0, 1.4, 1.9, 1.3, 0.86, 1.1, 1.6, 1.1, 0.71, 0.43, 0.71, 1.0, 0.71, 0.43, 0.29, 0.43, 0.71,
     0.57, 0.43, 0.43, 0.57, 0.57, 0.57, 0.71, 0.57, 0.43, 0.29, 0.14, 0.14, 0.14, 0.29, 0.43, 0.57, 0.57,
     0.43, 0.43, 0.29, 0.29, 0.43, 0.57, 0.71, 0.71, 0.86, 1.0, 1.3, 1.0, 1.4, 1.7],
    [3.2, 2.1, 1.0, 0.43, 0, 0.14, 0.29, 0.14, 0, 0, 0.14, 0.43, 0.57, 0.43, 0.14, 0, 0, 0.14, 0.14, 0, 0,
     0.14, 0.29, 0.14, 0, 0, 0, 0, 0.14, 0.14, 0.14, 0, 0, 0.14, 0.43, 0.71, 0.57, 0.29, 0.14, 0, 0, 0.14,
     0.29],
    [3.0, 2.6, 2.0, 1.6, 2.1, 1.6, 1.3, 1.0, 1.3, 1.0, 0.71, 0.86, 0.57, 0.71, 0.86, 1.0, 0.86, 0.71, 0.57,
     0.57, 0.57, 0.43, 0.57, 0.71, 0.86, 0.71, 0.57, 0.43, 0.43, 0.57, 0.43, 0.29, 0.29, 0.29, 0.43, 0.29,
     0.14, 0.29, 0.43, 0.57, 0.43, 0.29, 0.43, 0.57, 0.57, 0.71, 0.57, 0.43, 0.57, 0.71, 0.86, 0.71, 0.86,
     1.1, 1.3, 1.1, 1.4, 1.7, 1.4],
    [3.3, 2.6, 3.1, 2.4, 1.9, 2.4, 1.9, 1.4, 1.9, 2.4, 1.9, 1.4, 1.0, 1.3, 1.7, 1.3, 1.0, 0.71, 1.0, 1.3,
     1.0, 0.71, 0.86, 0.57, 0.71, 0.86, 0.71, 0.57, 0.43, 0.57, 0.43, 0.29, 0.43, 0.29, 0.29, 0.43, 0.29,
     0.14, 0.29, 0.14, 0.14, 0.14, 0.29, 0.43, 0.29],
    [3.0, 1.4, 0.71, 0.29, 0.14, 0.29, 0.57, 0.29, 0.14, 0.14, 0.29, 0.29, 0.14, 0, 0.14, 0.29, 0.43, 0.29,
     0.14, 0.14, 0.14, 0.29, 0.29, 0.14, 0, 0, 0.14, 0.29, 0.29, 0.43, 0.29, 0.14, 0.14, 0, 0, 0, 0.14,
     0.14, 0.29, 0.43, 0.57, 0.71, 0.57, 0.71, 0.86, 1.0, 0.86],
    [3.4, 2.9, 2.2, 2.8, 2.1, 1.6, 2.1, 2.6, 2.0, 1.6, 2.1, 1.6, 1.3, 1.7, 2.2, 1.7, 1.3, 1.7, 1.3, 1.0,
     1.3, 1.0, 0.86, 1.1, 1.4, 1.1, 0.86, 1.1, 0.86, 0.71, 0.86, 0.71, 0.57, 0.71, 0.86, 0.71, 0.57, 0.43,
     0.57, 0.71, 0.86, 1.0, 0.86, 1.1, 1.3, 1.6, 1.3, 1.7, 2.1, 1.7, 2.2],
    [3.1, 2.4, 1.7, 1.1, 0.71, 0.43, 0.29, 0.43, 0.57, 0.43, 0.29, 0.14, 0.14, 0.29, 0.29, 0.29, 0.43, 0.43,
     0.29, 0.14, 0, 0.14, 0.14, 0.14, 0.29, 0.29, 0.43, 0.43, 0.43, 0.29, 0.14, 0.14, 0.29, 0.29, 0.14],
    [3.2, 1.9, 2.4, 1.6, 1.0, 1.4, 0.86, 1.3, 1.7, 1.1, 0.71, 1.0, 1.4, 1.0, 0.57, 0.86, 1.1, 0.86, 0.57,
     0.43, 0.71, 1.0, 0.71, 0.43, 0.29, 0.43, 0.57, 0.43, 0.29, 0.29, 0.43, 0.57, 0.71, 0.86, 0.71, 1.0,
     1.3, 1.0, 0.86, 1.1, 1.4, 1.9, 1.4, 1.7, 2.3, 1.9, 2.6, 2.1, 2.7, 3.3, 2.7, 3.4, 4.1, 3.4, 4.2, 3.6,
     4.4, 3.7, 4.5],
    [3.0, 2.3, 1.6, 1.0, 0.57, 0.29, 0.14, 0, 0, 0.14, 0, 0, 0.14, 0.29, 0.14, 0.14, 0, 0, 0, 0, 0.14, 0.14,
     0, 0, 0, 0.14, 0.29, 0.14, 0, 0, 0.14, 0.14, 0, 0, 0, 0.14, 0.29, 0.43, 0.29, 0.14, 0, 0, 0.14, 0.14,
     0.29, 0.14, 0, 0.14, 0.29, 0.43, 0.57, 0.43, 0.57, 0.71, 0.57],
    [3.5, 3.0, 2.4, 3.0, 2.3, 1.9, 2.4, 3.0, 2.4, 1.9, 1.4, 1.9, 1.4, 1.1, 1.4, 1.9, 1.6, 1.3, 1.6, 2.0,
     1.6, 1.3, 1.0, 1.3, 1.0, 0.86, 1.1, 0.86, 0.71, 0.86, 1.0, 0.86, 0.71, 0.57, 0.71, 0.57, 0.43, 0.57,
     0.71, 0.57, 0.43, 0.57],
    [3.0, 2.7, 2.1, 1.7, 2.1, 2.6, 2.1, 1.7, 2.1, 1.7, 1.4, 1.7, 2.1, 2.6, 2.1, 2.6, 3.1, 2.6, 2.1, 1.7,
     2.1, 1.7, 1.4, 1.7, 1.4, 1.1, 1.4, 1.1, 0.86, 1.1, 1.4, 1.1, 1.4, 1.7, 1.4, 1.1, 0.86, 1.1, 0.86,
     0.71, 0.86, 1.1, 0.86, 1.1, 1.4, 1.1, 1.4, 1.7, 1.4, 1.7, 2.1, 1.7, 2.1, 2.6, 2.1, 2.6, 3.0, 2.6,
     2.1, 2.6, 3.1],
    [3.0, 2.0, 1.3, 0.86, 0.43, 0.14, 0, 0, 0.14, 0.29, 0.43, 0.29, 0.14, 0.14, 0.29, 0.57, 0.71, 0.57,
     0.43, 0.29, 0.14, 0, 0, 0.14, 0.29, 0.29, 0.14, 0.14, 0.29, 0.43, 0.57, 0.43, 0.29, 0.29, 0.43, 0.57,
     0.71, 0.86, 0.71, 0.57, 0.43, 0.57, 0.71, 0.57, 0.43, 0.29, 0.29, 0.43, 0.57, 0.57, 0.43, 0.29, 0.14,
     0.14, 0.29, 0.43, 0.57, 0.43, 0.43, 0.57],
    [3.2, 2.6, 1.9, 1.3, 1.7, 1.1, 0.71, 1.0, 1.4, 1.0, 0.57, 0.29, 0.14, 0, 0, 0.29, 0.57, 0.86, 0.57,
     0.29, 0.14, 0.14, 0.43, 0.71, 0.43, 0.14, 0, 0, 0.14, 0.43, 0.86, 1.1, 0.86, 0.57, 0.43, 0.57, 0.29,
     0.14, 0.29, 0.57, 0.86, 0.57, 0.29, 0.29, 0.57, 0.71, 1.0, 0.71, 0.43, 0.57, 0.86, 1.1, 0.86],
    [3.1, 3.7, 2.9, 2.1, 2.7, 3.4, 2.6, 1.9, 1.4, 1.9, 2.6, 1.9, 1.3, 0.86, 1.3, 1.9, 1.4, 0.86, 0.57,
     0.86, 1.3, 1.0, 0.57, 0.29, 0.57, 0.86, 0.57, 0.29, 0.14, 0.29, 0.57, 0.43, 0.14, 0, 0.14, 0.43,
     0.29, 0.14, 0.29, 0.43, 0.57, 0.29, 0.14, 0.29, 0.57, 0.86, 0.57, 0.29, 0.43, 0.71, 1.0, 1.4, 1.0,
     1.4, 1.9, 1.4, 1.9, 2.4, 1.9, 2.4, 3.0, 2.4],
    [3.3, 4.1, 5.0, 4.0, 3.1, 2.3, 3.0, 3.9, 3.0, 2.3, 1.7, 2.3, 3.0, 2.3, 1.7, 1.1, 1.6, 2.1, 1.6, 1.1,
     0.71, 1.1, 1.6, 1.1, 0.71, 0.43, 0.71, 1.0, 0.71, 0.43, 0.29, 0.43, 0.71, 0.43, 0.29, 0.14, 0.29,
     0.43, 0.29, 0.14, 0.14, 0.29, 0.43, 0.57],
    [3.0, 2.1, 1.4, 1.0, 1.4, 2.0, 1.4, 1.0, 0.71, 1.0, 1.4, 1.0, 0.71, 0.43, 0.14, 0, 0.14, 0.43, 0.71,
     1.0, 0.71, 0.43, 0.43, 0.71, 1.0, 1.3, 1.0, 0.71, 0.43, 0.29, 0.14, 0.29, 0.57, 0.86, 0.57, 0.29,
     0.14, 0.14, 0.29, 0.29, 0.43, 0.71, 0.86, 0.71, 0.57, 0.43, 0.29, 0.43, 0.57, 0.71, 0.57, 0.43, 0.29,
     0.43, 0.71, 0.86, 1.1, 1.4, 1.1, 1.4, 1.7],
    [3.4, 2.4, 3.1, 2.3, 1.6, 2.1, 1.4, 1.9, 1.3, 0.86, 1.3, 1.7, 1.1, 0.71, 1.0, 0.57, 0.29, 0.57, 0.86,
     0.57, 0.29, 0.14, 0.14, 0.29, 0.43, 0.29, 0.14, 0, 0, 0, 0.14, 0.14, 0.29, 0.29, 0.14, 0, 0, 0.14,
     0.29, 0.43, 0.29, 0.29, 0.43, 0.43, 0.29, 0.14],
    [3.2, 3.9, 3.1, 4.0, 5.0, 4.1, 3.2, 4.2, 5.3, 4.3, 3.4, 2.6, 3.4, 4.3, 3.4, 2.6, 2.0, 2.6, 3.3, 2.6,
     2.0, 1.4, 1.9, 2.4, 1.9, 1.4, 1.0, 1.4, 1.9, 1.4, 1.0, 0.71, 1.0, 1.4, 1.0, 0.71, 0.43, 0.71, 1.0,
     0.71, 0.43, 0.71, 1.0, 1.4, 1.0, 1.4, 1.9, 2.4, 1.9, 2.4, 3.0, 2.4, 3.1, 3.9, 3.1, 3.9],
    [3.1, 1.7, 0.86, 0.43, 0.71, 1.0, 0.71, 0.43, 0.14, 0, 0, 0.14, 0.29, 0.14, 0, 0, 0, 0.14, 0.29, 0.43,
     0.29, 0.14, 0, 0, 0, 0.14, 0.14, 0.14, 0, 0, 0.14, 0.29, 0.43, 0.57, 0.43, 0.29, 0.14, 0.14, 0.29,
     0.43, 0.29, 0.14, 0, 0, 0.14, 0.29, 0.43, 0.29, 0.14, 0.14, 0.29],
]

y_ticks = [0, 1, 2, 5, 10, 20, 50, 100, 200, 500, 1000, 2000]
x_ticks = [20, 40, 60, 80, 100, 120, 140, 160, 180, 200, 220, 240]


def fwd(v):
    return np.log10(np.clip(v, 0, None) + 1)


def inv(t):
    return 10 ** np.asarray(t) - 1


fig = plt.figure(figsize=(22.73, 11.52), dpi=100, facecolor=BG)
ax = fig.add_axes([104 / 2273, 1 - 1063 / 1152, 1 - 104 / 2273, (1063 - 13) / 1152])
ax.set_facecolor(BG)
ax.set_yscale('function', functions=(fwd, inv))
ax.set_xlim(0, 259.8)
ax.set_ylim(0, 3030)

for t in y_ticks[1:]:
    ax.axhline(t, color='#ecdfd3', lw=1.6, zorder=0)
for t in x_ticks:
    ax.axvline(t, color='#ddd3ca', lw=0.9, zorder=0)

for vals in grey_5day:
    ax.plot(np.arange(len(vals)) * 5, vals, color=GREY, lw=1.2, zorder=1)
for vals in grey_mid + grey_low:
    ax.plot(np.arange(len(vals)) * 3, vals, color=GREY, lw=1.2, zorder=1)

ax.axhline(0, color='#a59d95', lw=2.6, zorder=2)

highlights = [
    ('United States', us_days, us_vals, '#eb5e8d', '#eb5e8d', 3),
    ('European Union', eu_days, eu_vals, '#0f5499', '#1f5a9c', 4),
    ('Brazil', br_days, br_vals, '#96bf4c', '#8aa23e', 5),
    ('United Kingdom', uk_days, uk_vals, '#1f93d6', '#2e96d6', 6),
]
for name, days, vals, col, tcol, z in highlights:
    ax.plot(days, vals, color=col, lw=3.6, zorder=z, solid_joinstyle='round', solid_capstyle='round')
    ax.plot(days[-1], vals[-1], 'o', ms=12, color=col, zorder=z)
    ax.annotate(name, (days[-1], vals[-1]), xytext=(16, 0), textcoords='offset points',
                ha='left', va='center', color=tcol, fontsize=22, zorder=10,
                path_effects=[pe.withStroke(linewidth=5, foreground=BG)])

ax.set_yticks(y_ticks)
ax.set_yticklabels([str(t) for t in y_ticks])
ax.set_xticks(x_ticks)
ax.set_xticklabels([str(t) for t in x_ticks])
ax.yaxis.set_minor_locator(plt.NullLocator())
ax.tick_params(length=0, labelsize=22, labelcolor=TEXT)
ax.tick_params(axis='y', pad=9)
ax.tick_params(axis='x', pad=6)
for s in ax.spines.values():
    s.set_visible(False)

fig.text(104 / 2273, 1 - 1135 / 1152, 'Number of days since 3 average daily deaths first recorded',
         ha='left', va='center', fontsize=22, color=TEXT)

fig.savefig('out.png', dpi=100, facecolor=BG)
